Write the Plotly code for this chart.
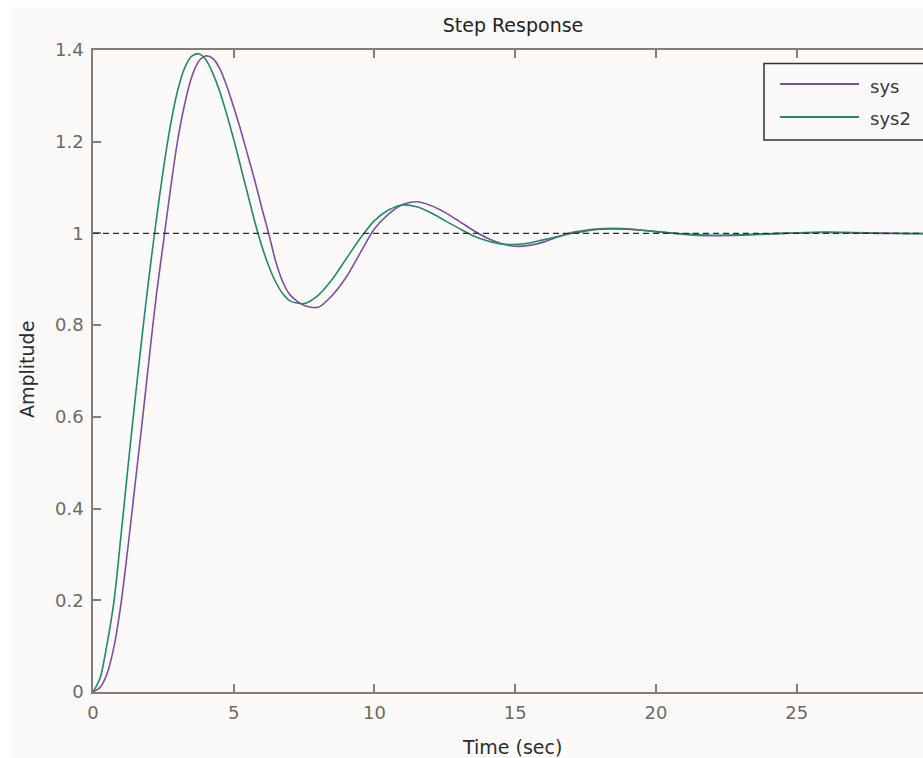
import plotly.graph_objects as go

# ---- data ----
time_s = [0, 0.25, 0.5, 0.75, 1, 1.25, 1.5, 1.75, 2, 2.25, 2.5, 2.75, 3, 3.25, 3.5, 3.75,
          4, 4.25, 4.5, 4.75, 5, 5.25, 5.5, 5.75, 6, 6.25, 6.5, 6.75, 7, 7.5, 8, 8.5, 9,
          9.5, 10, 10.5, 11, 11.5, 12, 12.5, 13, 13.5, 14, 14.5, 15, 15.5, 16, 16.5, 17,
          17.5, 18, 18.5, 19, 19.5, 20, 21, 22, 23, 24, 25, 26, 27, 28, 29, 30]

sys_amp = [0, 0.01, 0.04, 0.10, 0.195, 0.32, 0.455, 0.59, 0.73, 0.865, 0.98, 1.095, 1.20,
           1.28, 1.34, 1.375, 1.387, 1.382, 1.36, 1.322, 1.275, 1.225, 1.17, 1.115, 1.055,
           0.998, 0.937, 0.893, 0.866, 0.843, 0.839, 0.865, 0.905, 0.958, 1.01, 1.042,
           1.063, 1.069, 1.061, 1.046, 1.027, 1.007, 0.99, 0.978, 0.972, 0.974, 0.981,
           0.992, 1.002, 1.007, 1.010, 1.011, 1.010, 1.007, 1.004, 0.998, 0.995, 0.996,
           0.999, 1.001, 1.003, 1.002, 1.001, 1.0, 0.9995]

sys2_amp = [0, 0.03, 0.105, 0.20, 0.345, 0.495, 0.64, 0.78, 0.91, 1.03, 1.14, 1.235, 1.31,
            1.36, 1.386, 1.392, 1.38, 1.35, 1.31, 1.26, 1.205, 1.145, 1.085, 1.025, 0.972,
            0.928, 0.893, 0.868, 0.853, 0.847, 0.865, 0.90, 0.945, 0.99, 1.028, 1.051,
            1.062, 1.058, 1.045, 1.028, 1.011, 0.995, 0.984, 0.977, 0.976, 0.979, 0.986,
            0.993, 1.0, 1.005, 1.009, 1.010, 1.009, 1.007, 1.004, 0.999, 0.996, 0.997,
            0.999, 1.001, 1.002, 1.001, 1.0, 0.9995, 0.9998]

series_names = ["sys", "sys2"]
x_ticks = [0, 5, 10, 15, 20, 25]
y_ticks = [0, 0.2, 0.4, 0.6, 0.8, 1, 1.2, 1.4]

# ---- styling ----
W, H = 923, 758
L, R, T, B = 93, 0, 50, 66
PW, PH = W - L - R, H - T - B
BG = "#fbfaf8"
AXC = "#887d73"
TICKC = "#716862"
PURPLE = "#7e4f9e"
GREEN = "#22896a"
FONT = "DejaVu Sans"

def px(xp):
    return (xp - L) / PW

def py(yp):
    return (H - B - yp) / PH

fig = go.Figure()
for name, vals, col in [(series_names[0], sys_amp, PURPLE), (series_names[1], sys2_amp, GREEN)]:
    fig.add_trace(go.Scatter(x=time_s, y=vals, name=name, mode="lines",
                             line=dict(color=col, width=1.6, shape="spline", smoothing=0.8),
                             showlegend=False))

shapes = [
    # white outer strips of the original screenshot
    dict(type="rect", xref="paper", yref="paper", x0=px(-5), x1=px(W + 20), y0=py(7), y1=py(-5),
         fillcolor="white", line=dict(width=0), layer="below"),
    dict(type="rect", xref="paper", yref="paper", x0=px(-5), x1=px(11), y0=py(H + 5), y1=py(-5),
         fillcolor="white", line=dict(width=0), layer="below"),
    # steady-state reference line
    dict(type="line", xref="paper", yref="y", x0=0, x1=1, y0=1, y1=1,
         line=dict(color="#2a2a2a", width=1.3, dash="6px,4px")),
    # legend box
    dict(type="rect", xref="paper", yref="paper", x0=px(764), x1=px(940), y0=py(63.5), y1=py(140),
         fillcolor=BG, line=dict(color="#333333", width=1.5)),
    dict(type="line", xref="paper", yref="paper", x0=px(780), x1=px(859), y0=py(84), y1=py(84),
         line=dict(color=PURPLE, width=1.8)),
    dict(type="line", xref="paper", yref="paper", x0=px(780), x1=px(859), y0=py(117), y1=py(117),
         line=dict(color=GREEN, width=1.8)),
]

annotations = [
    dict(text="Time (sec)", xref="paper", yref="paper", x=px(512), y=py(747),
         xanchor="center", yanchor="middle", showarrow=False,
         font=dict(family=FONT, size=19, color="#2c2c2c")),
    dict(text="Amplitude", xref="paper", yref="paper", x=px(27), y=py(370),
         xanchor="center", yanchor="middle", showarrow=False, textangle=-90,
         font=dict(family=FONT, size=19, color="#2c2c2c")),
    dict(text=series_names[0], xref="paper", yref="paper", x=px(868), y=py(86),
         xanchor="left", yanchor="middle", showarrow=False,
         font=dict(family=FONT, size=18, color="#3a3a3a")),
    dict(text=series_names[1], xref="paper", yref="paper", x=px(868), y=py(118),
         xanchor="left", yanchor="middle", showarrow=False,
         font=dict(family=FONT, size=18, color="#3a3a3a")),
]

axis_common = dict(showgrid=False, zeroline=False, showline=True, linecolor=AXC, linewidth=1.5,
                   ticks="inside", ticklen=8, tickwidth=1.5, tickcolor=AXC,
                   tickfont=dict(family=FONT, size=18, color=TICKC))

fig.update_layout(
    width=W, height=H,
    margin=dict(l=L, r=R, t=T, b=B, autoexpand=False),
    paper_bgcolor=BG, plot_bgcolor=BG,
    title=dict(text="Step Response", x=px(513), xref="paper", xanchor="center",
               y=1 - 25 / H, yref="container", yanchor="middle",
               font=dict(family=FONT, size=19, color="#222222")),
    xaxis=dict(range=[0, (W - L) / 28.147], tickvals=x_ticks, mirror="ticks",
               ticklabelstandoff=4, **axis_common),
    yaxis=dict(range=[0, 1.4], tickvals=y_ticks, mirror=False, ticklabelstandoff=4,
               **axis_common),
    shapes=shapes, annotations=annotations, showlegend=False,
)

fig.write_html("out.html", config={"displayModeBar": False},
               post_script="document.body.style.margin='0';document.body.style.overflow='hidden';")
